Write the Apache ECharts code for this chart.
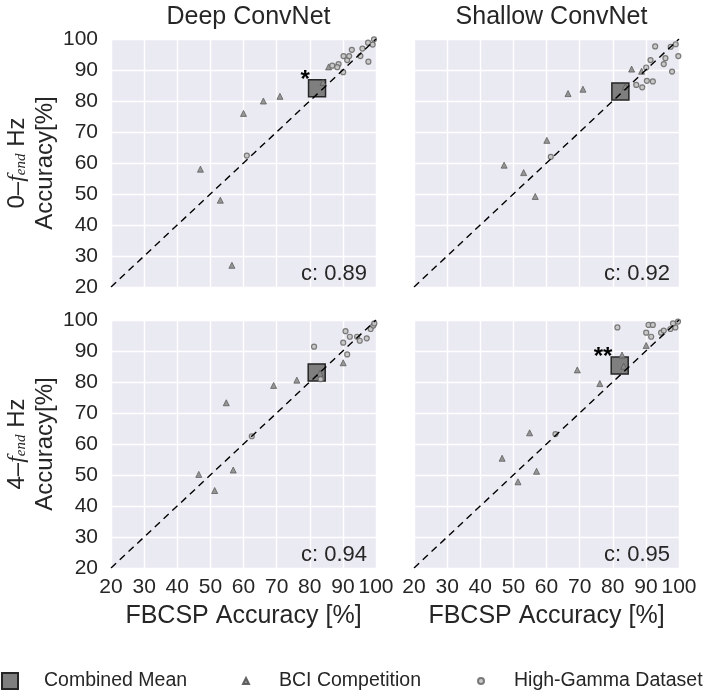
<!DOCTYPE html>
<html>
<head>
<meta charset="utf-8">
<title>ConvNet vs FBCSP</title>
<script src="https://cdn.jsdelivr.net/npm/echarts@6.0.0/dist/echarts.min.js"></script>
<style>
html, body { margin: 0; padding: 0; background: #fff; }
#main { width: 704px; height: 693px; }
</style>
</head>
<body>
<div id="main"></div>
<script>
// 列标题 / 坐标范围
var colTitles = ['Deep ConvNet', 'Shallow ConvNet'];
var axisMin = 20, axisMax = 100, axisStep = 10;
var diagLine = [[20, 20], [100, 100]];

// 0-f_end Hz, Deep ConvNet
var deep0Bci = [[47, 58], [53, 48], [56.5, 27], [60, 76], [66, 80], [71, 81.5], [84, 86], [85.7, 91]];
var deep0Hg = [[61, 62.4], [86.8, 91.4], [88.7, 91.9], [88.3, 90.9], [90.1, 89.3], [90.2, 94.5], [91.3, 93.2],
    [91.9, 94.5], [92.7, 96.5], [95.3, 94.5], [95.9, 96.9], [97.7, 92.7], [97.6, 98.8], [99, 98.2], [99.4, 99.9]];
var deep0Mean = [82.2, 84.1];

// 0-f_end Hz, Shallow ConvNet
var shallow0Bci = [[47.2, 59.3], [53.1, 56.9], [56.6, 49.2], [60.1, 67.3], [66.5, 82.4], [71, 83.8], [83.8, 84.6],
    [85.7, 90.3], [88.7, 89.6]];
var shallow0Hg = [[61.3, 62], [87.1, 85.2], [88.9, 84.4], [90.3, 86.5], [92.1, 86.3], [90.1, 90.8], [91.4, 93.2],
    [92.8, 97.6], [95.4, 91.9], [95.9, 93.8], [97.9, 89.5], [97.5, 97.5], [99, 98.3], [99.8, 94.5]];
var shallow0Mean = [82.3, 83.1];

// 4-f_end Hz, Deep ConvNet
var deep4Bci = [[46.5, 50.2], [51.3, 45], [54.8, 73.3], [56.9, 51.6], [69.1, 78.9], [76.1, 80.6], [83.1, 82.8],
    [90.1, 86.2]];
var deep4Hg = [[62.5, 62.5], [81.3, 91.4], [83.3, 80.9], [90.1, 92.7], [90.8, 96.4], [91.3, 88.9], [92.1, 94.6],
    [94.3, 94.6], [95.1, 93.3], [97.2, 94.1], [98.4, 97.1], [99.2, 98.2], [99.5, 98.9]];
var deep4Mean = [82.1, 83.1];

// 4-f_end Hz, Shallow ConvNet
var shallow4Bci = [[46.6, 55.4], [51.4, 47.8], [54.9, 63.6], [57, 51.2], [69.3, 83.9], [76.1, 79.5], [82.8, 88.7],
    [83.3, 85.1], [90.1, 91.8]];
var shallow4Hg = [[62.7, 63.2], [81.4, 97.6], [90.8, 98.4], [92.1, 98.4], [90.1, 95.9], [91.6, 94.6], [94.6, 95.9],
    [95.4, 96.6], [97.4, 97.1], [98.9, 97.6], [98.2, 98.9], [99.7, 99.5]];
var shallow4Mean = [82.1, 85.3];

// 相关系数和显著性标记
var corrLabels = ['c: 0.89', 'c: 0.92', 'c: 0.94', 'c: 0.95'];
var starLabels = ['*', '', '', '**'];
var rowNames = ['0–', '4–'];

var bciSets = [deep0Bci, shallow0Bci, deep4Bci, shallow4Bci];
var hgSets = [deep0Hg, shallow0Hg, deep4Hg, shallow4Hg];
var meanSets = [deep0Mean, shallow0Mean, deep4Mean, shallow4Mean];

// 注意: 不要用全局变量名 top (window.top), 会导致 echarts 递归
function buildOption() {
    var font = 'Liberation Sans';
    var gridW = 265, gridH = 248;
    var gridPos = [[111, 39], [414, 39], [111, 320], [414, 320]];
    var grids = [], xAxes = [], yAxes = [], seriesList = [], graphics = [];

    for (var i = 0; i < 4; i++) {
        var gLeft = gridPos[i][0], gTop = gridPos[i][1];
        var isLeft = (i % 2 === 0), isBottom = (i >= 2);
        grids.push({ left: gLeft, top: gTop, width: gridW, height: gridH, backgroundColor: '#eaeaf2', show: true, borderWidth: 0 });
        xAxes.push({
            type: 'value', gridIndex: i, min: axisMin, max: axisMax, interval: axisStep,
            axisLine: { show: false }, axisTick: { show: false },
            splitLine: { lineStyle: { color: '#fff', width: 1.4 } },
            axisLabel: { show: isBottom, fontFamily: font, fontSize: 21, color: '#262626', margin: 9 },
            name: isBottom ? 'FBCSP Accuracy [%]' : '', nameLocation: 'middle', nameGap: 36,
            nameTextStyle: { fontFamily: font, fontSize: 25, color: '#262626' }
        });
        yAxes.push({
            type: 'value', gridIndex: i, min: axisMin, max: axisMax, interval: axisStep,
            axisLine: { show: false }, axisTick: { show: false },
            splitLine: { lineStyle: { color: '#fff', width: 1.4 } },
            axisLabel: { show: isLeft, fontFamily: font, fontSize: 21, color: '#262626', margin: 13 },
            name: isLeft ? '{a|' + rowNames[i / 2] + '}{f|f}{s|end}{a| Hz}\n{a|Accuracy[%]}' : '',
            nameLocation: 'middle', nameGap: 42,
            nameTextStyle: {
                color: '#262626', lineHeight: 28,
                rich: {
                    a: { fontFamily: font, fontSize: 24, color: '#262626', lineHeight: 28 },
                    f: { fontFamily: 'Liberation Serif', fontStyle: 'italic', fontSize: 24, color: '#262626', lineHeight: 28 },
                    s: { fontFamily: 'Liberation Serif', fontStyle: 'italic', fontSize: 15, color: '#262626', verticalAlign: 'bottom', padding: [0, 0, 2, 0] }
                }
            }
        });
        // 平均值方块
        seriesList.push({
            name: 'Combined Mean', type: 'scatter', xAxisIndex: i, yAxisIndex: i, z: 2,
            symbol: 'rect', symbolSize: 17,
            itemStyle: { color: '#7f7f7f', borderColor: '#262626', borderWidth: 1.5, opacity: 1 },
            label: {
                show: starLabels[i] !== '', formatter: starLabels[i] || ' ', position: 'left',
                offset: [7, -8],
                fontFamily: font, fontSize: 24, fontWeight: 'bold', color: '#000'
            },
            data: [meanSets[i]]
        });
        seriesList.push({
            name: 'BCI Competition', type: 'scatter', xAxisIndex: i, yAxisIndex: i, z: 3,
            symbol: 'triangle', symbolSize: 6,
            itemStyle: { color: '#8c8c8c', borderColor: '#555', borderWidth: 0.8, opacity: 0.9 },
            data: bciSets[i]
        });
        seriesList.push({
            name: 'High-Gamma Dataset', type: 'scatter', xAxisIndex: i, yAxisIndex: i, z: 3,
            symbol: 'circle', symbolSize: 5,
            itemStyle: { color: '#c4c4c4', borderColor: '#6e6e6e', borderWidth: 1.2, opacity: 0.9 },
            data: hgSets[i]
        });
        // 对角虚线
        seriesList.push({
            type: 'line', xAxisIndex: i, yAxisIndex: i, z: 4, symbol: 'none', silent: true,
            lineStyle: { color: '#000', width: 1.4, type: [7, 5] },
            data: diagLine
        });
        graphics.push({
            type: 'text', x: gLeft + gridW - 9, y: gTop + gridH - 13, z: 10,
            style: { text: corrLabels[i], fontFamily: font, fontSize: 22, fill: '#262626', align: 'right', verticalAlign: 'middle' }
        });
    }

    var titleStyle = { fontFamily: font, fontSize: 25, fontWeight: 'normal', color: '#262626' };
    var legendText = function(pad) {
        return { fontFamily: font, fontSize: 19.5, color: '#262626', padding: [0, 0, 0, pad] };
    };
    return {
        animation: false,
        title: [
            { text: colTitles[0], left: 111 + gridW / 2, top: 0, textAlign: 'center', textStyle: titleStyle },
            { text: colTitles[1], left: 414 + gridW / 2, top: 0, textAlign: 'center', textStyle: titleStyle }
        ],
        grid: grids,
        xAxis: xAxes,
        yAxis: yAxes,
        legend: [
            { data: ['Combined Mean'], left: 1, top: 671, padding: 0, itemWidth: 16, itemHeight: 16, textStyle: legendText(21) },
            { data: ['BCI Competition'], left: 242, top: 671, padding: 0, itemWidth: 6, itemHeight: 6, textStyle: legendText(25) },
            { data: ['High-Gamma Dataset'], left: 477, top: 671, padding: 0, itemWidth: 6, itemHeight: 6, textStyle: legendText(25) }
        ],
        graphic: graphics,
        series: seriesList
    };
}

var chart = echarts.init(document.getElementById('main'));
chart.setOption(buildOption());
</script>
</body>
</html>
